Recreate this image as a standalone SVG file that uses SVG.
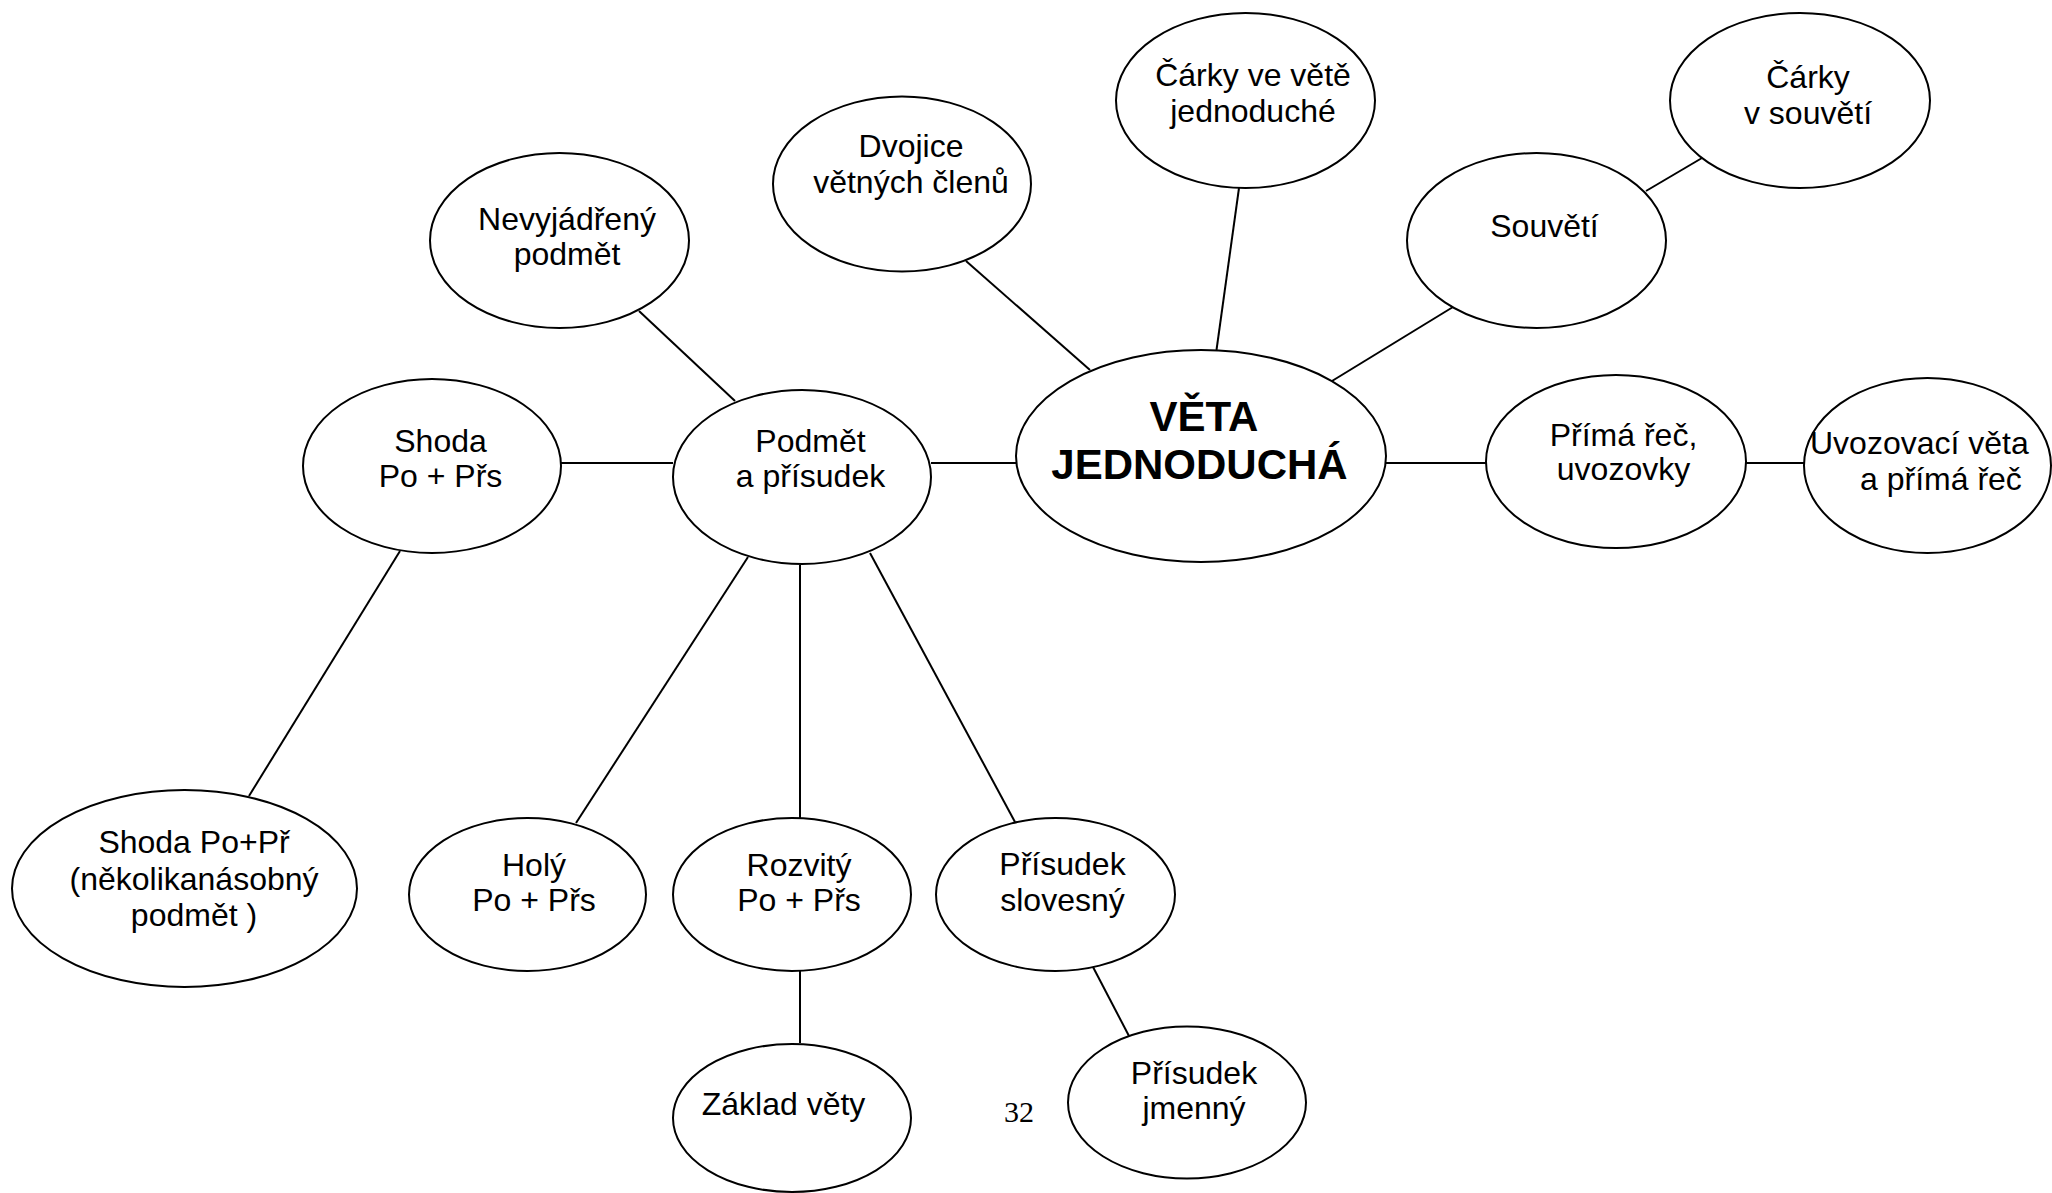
<svg xmlns="http://www.w3.org/2000/svg" width="2052" height="1193" viewBox="0 0 2052 1193">
<style>
.n ellipse{fill:#fff;stroke:#000;stroke-width:2}
.n text{font-family:"Liberation Sans",Arial,sans-serif;font-size:32px;fill:#000;text-anchor:middle}
.n text.b{font-weight:bold;font-size:42px}
.n text.s{text-anchor:start}
#edges line{stroke:#000;stroke-width:2}
.pg{font-family:"Liberation Serif","Times New Roman",serif;font-size:30px;fill:#000}
</style>
<rect width="2052" height="1193" fill="#fff"/>
<g id="edges">
<line x1="561" y1="463" x2="673" y2="463"/>
<line x1="639" y1="311" x2="735" y2="401"/>
<line x1="931" y1="463" x2="1016" y2="463"/>
<line x1="966" y1="261" x2="1090" y2="370"/>
<line x1="1239" y1="188" x2="1216.5" y2="350"/>
<line x1="1453" y1="307" x2="1332" y2="381"/>
<line x1="1646" y1="191" x2="1702" y2="158"/>
<line x1="1386" y1="463" x2="1486" y2="463"/>
<line x1="1746" y1="463" x2="1804" y2="463"/>
<line x1="400" y1="551" x2="249" y2="796"/>
<line x1="748" y1="557" x2="576" y2="823"/>
<line x1="800" y1="565" x2="800" y2="818"/>
<line x1="870" y1="553" x2="1015" y2="822"/>
<line x1="800" y1="971" x2="800" y2="1043"/>
<line x1="1093" y1="967" x2="1129" y2="1036"/>
</g>
<g id="nevyjadreny" class="n"><ellipse cx="559.5" cy="240.5" rx="129.5" ry="87.5"/><text x="567" y="230">Nevyjádřený</text><text x="567" y="265">podmět</text></g>
<g id="dvojice" class="n"><ellipse cx="902" cy="184" rx="129" ry="87.5"/><text x="911" y="157">Dvojice</text><text x="911" y="193">větných členů</text></g>
<g id="carky-veta" class="n"><ellipse cx="1245.5" cy="100.5" rx="129.5" ry="87.5"/><text x="1253" y="86">Čárky ve větě</text><text x="1253" y="122">jednoduché</text></g>
<g id="carky-souveti" class="n"><ellipse cx="1800" cy="100.5" rx="130" ry="87.5"/><text x="1808" y="88">Čárky</text><text x="1808" y="124">v souvětí</text></g>
<g id="souveti" class="n"><ellipse cx="1536.5" cy="240.5" rx="129.5" ry="87.5"/><text x="1544.5" y="237">Souvětí</text></g>
<g id="shoda" class="n"><ellipse cx="432" cy="466" rx="129" ry="87"/><text x="440.5" y="452">Shoda</text><text x="440.5" y="487">Po + Přs</text></g>
<g id="podmet" class="n"><ellipse cx="802" cy="477" rx="129" ry="87"/><text x="810.5" y="452">Podmět</text><text x="810.5" y="487">a přísudek</text></g>
<g id="veta" class="n"><ellipse cx="1201" cy="456" rx="185" ry="106"/><text class="b" x="1204" y="431">VĚTA</text><text class="b" x="1199.5" y="479">JEDNODUCHÁ</text></g>
<g id="prima-rec" class="n"><ellipse cx="1616" cy="461.5" rx="130" ry="86.5"/><text x="1623.5" y="446">Přímá řeč,</text><text x="1623.5" y="480">uvozovky</text></g>
<g id="uvozovaci" class="n"><ellipse cx="1927.5" cy="465.5" rx="123.5" ry="87.5"/><text class="s" x="1810" y="454">Uvozovací věta</text><text class="s" x="1860" y="490">a přímá řeč</text></g>
<g id="shoda-po-pr" class="n"><ellipse cx="184.5" cy="888.5" rx="172.5" ry="98.5"/><text x="194" y="853">Shoda Po+Př</text><text x="194" y="890">(několikanásobný</text><text x="194" y="926">podmět )</text></g>
<g id="holy" class="n"><ellipse cx="527.5" cy="894.5" rx="118.5" ry="76.5"/><text x="534" y="876">Holý</text><text x="534" y="911">Po + Přs</text></g>
<g id="rozvity" class="n"><ellipse cx="792" cy="894.5" rx="119" ry="76.5"/><text x="799" y="876">Rozvitý</text><text x="799" y="911">Po + Přs</text></g>
<g id="prisudek-slovesny" class="n"><ellipse cx="1055.5" cy="894.5" rx="119.5" ry="76.5"/><text x="1062.5" y="875">Přísudek</text><text x="1062.5" y="911">slovesný</text></g>
<g id="zaklad" class="n"><ellipse cx="792" cy="1118" rx="119" ry="74"/><text x="783.5" y="1115">Základ věty</text></g>
<g id="prisudek-jmenny" class="n"><ellipse cx="1187" cy="1102.5" rx="119" ry="76"/><text x="1194" y="1084">Přísudek</text><text x="1194" y="1119">jmenný</text></g>
<text class="pg" x="1004" y="1122">32</text>
</svg>
